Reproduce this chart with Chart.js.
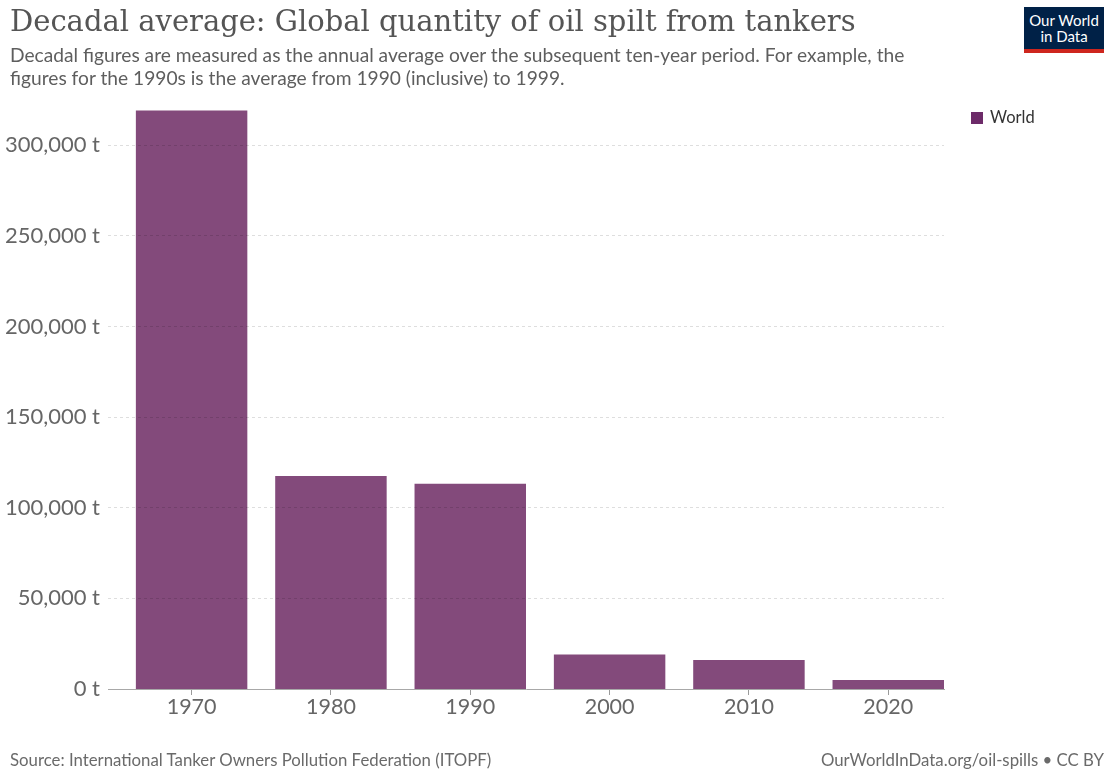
<!DOCTYPE html>
<html>
<head>
<meta charset="utf-8">
<script src="https://cdn.jsdelivr.net/npm/chart.js@4"></script>
<style>
  html, body { margin: 0; padding: 0; background: #fff; }
  body { width: 1110px; height: 771px; position: relative; overflow: hidden; font-family: Lato, sans-serif; }
  #title { position: absolute; left: 10px; top: 4px; font-family: "DejaVu Serif", serif; color: #555; white-space: nowrap; font-size: 28px; }
  #subtitle { position: absolute; left: 10px; top: 43px; font-size: 19.2px; line-height: 23px; color: #5e5e5e; white-space: nowrap; }
  #logo { position: absolute; left: 1024px; top: 7px; width: 80px; height: 46px; background: #002147; color: #fff; font-size: 15px; line-height: 16px; text-align: center; box-sizing: border-box; padding-top: 5px; border-bottom: 4px solid #ce261e; }
  #legend { position: absolute; left: 971px; top: 107px; font-size: 16.5px; color: #333; }
  #legend span { display: inline-block; width: 12px; height: 12px; background: #6d2b69; margin-right: 7px; vertical-align: -1px; }
  #source { position: absolute; left: 10px; top: 749px; font-size: 16.8px; color: #6a6a6a; }
  #license { position: absolute; right: 6px; top: 749px; font-size: 16.8px; color: #6a6a6a; }
  #wrap { position: absolute; left: 0; top: 0; width: 1110px; height: 771px; }
</style>
</head>
<body>
<div id="wrap"><canvas id="chart" width="1110" height="771"></canvas></div>
<div id="title">Decadal average: Global quantity of oil spilt from tankers</div>
<div id="subtitle">Decadal figures are measured as the annual average over the subsequent ten-year period. For example, the<br>figures for the 1990s is the average from 1990 (inclusive) to 1999.</div>
<div id="logo">Our World<br>in Data</div>
<div id="legend"><span></span>World</div>
<div id="source">Source: International Tanker Owners Pollution Federation (ITOPF)</div>
<div id="license">OurWorldInData.org/oil-spills • CC BY</div>
<script>
// oil spilt per year, averaged over each decade (tonnes)
const decades = ['1970', '1980', '1990', '2000', '2010', '2020'];
const spilled = [319300, 117600, 113200, 19100, 16000, 5000];
const yTicks = [0, 50000, 100000, 150000, 200000, 250000, 300000];

// squeeze the title into the same width as the header line
const title = document.getElementById('title');
const wantWidth = 846;
title.style.fontSize = (28 * wantWidth / title.getBoundingClientRect().width) + 'px';

const ctx = document.getElementById('chart').getContext('2d');

new Chart(ctx, {
    type: 'bar',
    data: {
        datasets: [{
            label: 'World',
            data: spilled.map((v, i) => ({ x: i, y: v })),
            backgroundColor: '#834a7b',
            borderWidth: 0,
            barPercentage: 0.8,
            categoryPercentage: 1
        }]
    },
    options: {
        responsive: false,
        animation: false,
        layout: { padding: { left: 0, right: 166, top: 91, bottom: 42 } },
        plugins: {
            legend: { display: false },
            tooltip: { enabled: false }
        },
        scales: {
            x: {
                type: 'linear',
                min: -0.6,
                max: 5.4,
                offset: false,
                afterBuildTicks: axis => { axis.ticks = decades.map((_, i) => ({ value: i })); },
                afterFit: axis => { axis.height = 40; },
                grid: { offset: false, drawOnChartArea: false, drawTicks: true, tickLength: 6, color: '#9a9a9a' },
                border: { display: true, color: '#a8a8a8', width: 1 },
                ticks: {
                    callback: v => decades[v],
                    font: { family: 'Lato', size: 21.5 },
                    color: '#666',
                    padding: -1,
                    maxRotation: 0
                }
            },
            y: {
                min: 0,
                max: 330000,
                afterBuildTicks: axis => { axis.ticks = yTicks.map(v => ({ value: v })); },
                afterFit: axis => { axis.width = 108; },
                grid: { drawTicks: false, color: 'rgba(0,0,0,0.13)', z: 1,
                        lineWidth: ctx => ctx.tick && ctx.tick.value === 0 ? 0 : 1 },
                border: { display: false, dash: [3, 3] },
                ticks: {
                    callback: v => v.toLocaleString('en-US') + ' t',
                    font: { family: 'Lato', size: 22 },
                    color: '#666',
                    padding: 8
                }
            }
        }
    }
});
</script>
</body>
</html>
